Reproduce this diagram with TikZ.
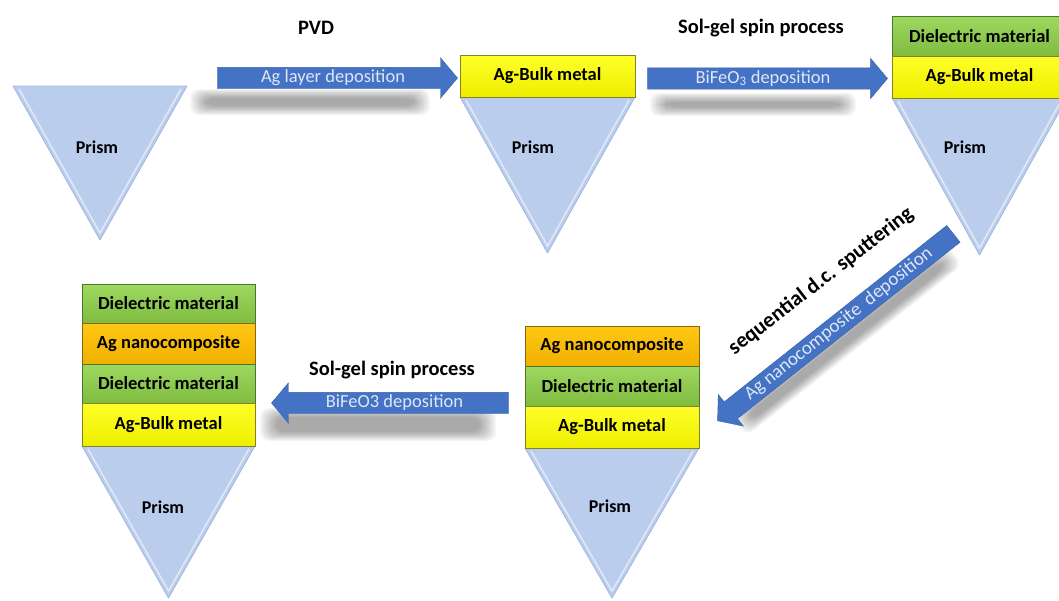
\documentclass[tikz,border=0pt]{standalone}
\usepackage{fontspec}
\setmainfont{Carlito}
\usetikzlibrary{shapes.arrows}
\definecolor{prismfill}{RGB}{187,205,236}
\definecolor{prismedge}{RGB}{160,183,224}
\definecolor{arrowblue}{RGB}{68,114,196}
\definecolor{arrowtxt}{RGB}{222,231,246}
\definecolor{yelA}{RGB}{255,255,40}
\definecolor{yelB}{RGB}{238,238,0}
\definecolor{yelD}{RGB}{130,130,40}
\definecolor{grnA}{RGB}{158,216,96}
\definecolor{grnB}{RGB}{128,188,64}
\definecolor{grnD}{RGB}{78,118,40}
\definecolor{orgA}{RGB}{255,200,20}
\definecolor{orgB}{RGB}{240,176,0}
\definecolor{orgD}{RGB}{140,100,20}
\newcommand{\mysoftshadow}[4]{%
  \foreach \k in {0,...,9}{%
    \fill[black, opacity=0.04, rounded corners=9pt] (#1+\k*1.8, #2+\k*1.0) rectangle (#3-\k*1.8, #4-\k*1.0);
  }}
\begin{document}
\begin{tikzpicture}[x=1pt,y=-1pt,
  layerbox/.style={rectangle, inner sep=0pt, minimum height=40pt, text=black,
    font=\fontsize{18.5}{20}\selectfont\bfseries, line width=0.8pt},
  bulkbox/.style={layerbox, top color=yelA, bottom color=yelB, draw=yelD},
  dielbox/.style={layerbox, top color=grnA, bottom color=grnB, draw=grnD},
  nanobox/.style={layerbox, top color=orgA, bottom color=orgB, draw=orgD},
  prismtri/.style={fill=prismfill, draw=prismedge, line width=0.8pt, line join=round},
  prismhi/.style={draw=white, opacity=0.55, line width=1.6pt},
  prismlabel/.style={font=\fontsize{18}{20}\selectfont\bfseries, text=black},
  heading/.style={font=\fontsize{20.5}{22}\selectfont\bfseries, text=black},
  blockarrow/.style={single arrow, fill=arrowblue, draw=arrowblue!85!black, line width=0.4pt,
    text=arrowtxt, font=\fontsize{18.5}{20}\selectfont, text height=13pt, text depth=4pt,
    inner ysep=2pt, inner xsep=0pt, single arrow head extend=9.5pt,
    single arrow tip angle=100, single arrow head indent=0pt}
]
\useasboundingbox (0,0) rectangle (1059,600);
\clip (0,0) rectangle (1059,600);

% ---------- shadows under the block arrows ----------
\mysoftshadow{190}{89}{430}{115}
\mysoftshadow{650}{93}{856}{116}
\mysoftshadow{260}{408}{496}{441}
\begin{scope}[shift={(839,324.5)}, rotate=38.4]
  \foreach \k in {0,...,9}{%
    \fill[black, opacity=0.04, rounded corners=9pt] (-142+\k*1.8, 4+\k*1.0) rectangle (134-\k*1.8, 30-\k*1.0);
  }
\end{scope}

% ---------- stack 1 (top left) ----------
\path[prismtri] (13,86) -- (187,86) -- (100,240) -- cycle;
\draw[prismhi] (19,89) -- (100,233) -- (181,89);
\node[prismlabel] (p1) at (97,147) {Prism};

% ---------- stack 2 (top middle) ----------
\path[prismtri] (460,97) -- (635,97) -- (547.5,253) -- cycle;
\draw[prismhi] (466,100) -- (547.5,246) -- (629,100);
\node[prismlabel] (p2) at (533,147) {Prism};
\node[bulkbox, minimum width=175pt, minimum height=42pt] (b2) at (547.5,76) {Ag-Bulk metal};

% ---------- stack 3 (top right) ----------
\path[prismtri] (892,98) -- (1067,98) -- (979.5,255) -- cycle;
\draw[prismhi] (898,101) -- (979.5,248) -- (1061,101);
\node[prismlabel] (p3) at (965,147) {Prism};
\node[dielbox, minimum width=175pt] (d3) at (979.5,36) {Dielectric material};
\node[bulkbox, minimum width=175pt, minimum height=42pt] (b3) at (979.5,77) {Ag-Bulk metal};

% ---------- stack 4 (bottom middle) ----------
\path[prismtri] (525,448) -- (699,448) -- (612,598) -- cycle;
\draw[prismhi] (531,451) -- (612,591) -- (693,451);
\node[prismlabel] (p4) at (610,506) {Prism};
\node[nanobox, minimum width=174pt] (n4) at (612,346) {Ag nanocomposite};
\node[dielbox, minimum width=174pt] (d4) at (612,386) {Dielectric material};
\node[bulkbox, minimum width=174pt, minimum height=42pt] (b4) at (612,427) {Ag-Bulk metal};

% ---------- stack 5 (bottom left) ----------
\path[prismtri] (82,446) -- (255,446) -- (168.5,598) -- cycle;
\draw[prismhi] (88,449) -- (168.5,591) -- (249,449);
\node[prismlabel] (p5) at (163,507) {Prism};
\node[dielbox, minimum width=173pt, minimum height=39pt] (d5a) at (168.5,303.5) {Dielectric material};
\node[nanobox, minimum width=173pt, minimum height=41pt] (n5) at (168.5,343.5) {Ag nanocomposite};
\node[dielbox, minimum width=173pt, minimum height=39pt] (d5b) at (168.5,383.5) {Dielectric material};
\node[bulkbox, minimum width=173pt, minimum height=43pt] (b5) at (168.5,424.5) {Ag-Bulk metal};

% ---------- block arrows ----------
\node[blockarrow, minimum height=240pt] (a1) at (333,78) {Ag layer deposition};
\node[blockarrow, minimum height=240pt] (a2) at (763,78.5) {BiFeO\textsubscript{3} deposition};
\node[blockarrow, minimum height=301pt, shape border rotate=180, rotate=38.4,
      font=\fontsize{19}{20}\selectfont] (a3) at (839,324.5) {Ag nanocomposite\ \ deposition};
\node[blockarrow, minimum height=237pt, shape border rotate=180] (a4) at (394.5,403) {BiFeO3 deposition};

% ---------- process labels ----------
\node[heading] (h1) at (316,28) {PVD};
\node[heading] (h2) at (761,28) {Sol-gel spin process};
\node[heading, rotate=37.8, font=\fontsize{21.5}{23}\selectfont\bfseries] (h3) at (821,281) {sequential d.c. sputtering};
\node[heading] (h4) at (392,370) {Sol-gel spin process};
\end{tikzpicture}
\end{document}
